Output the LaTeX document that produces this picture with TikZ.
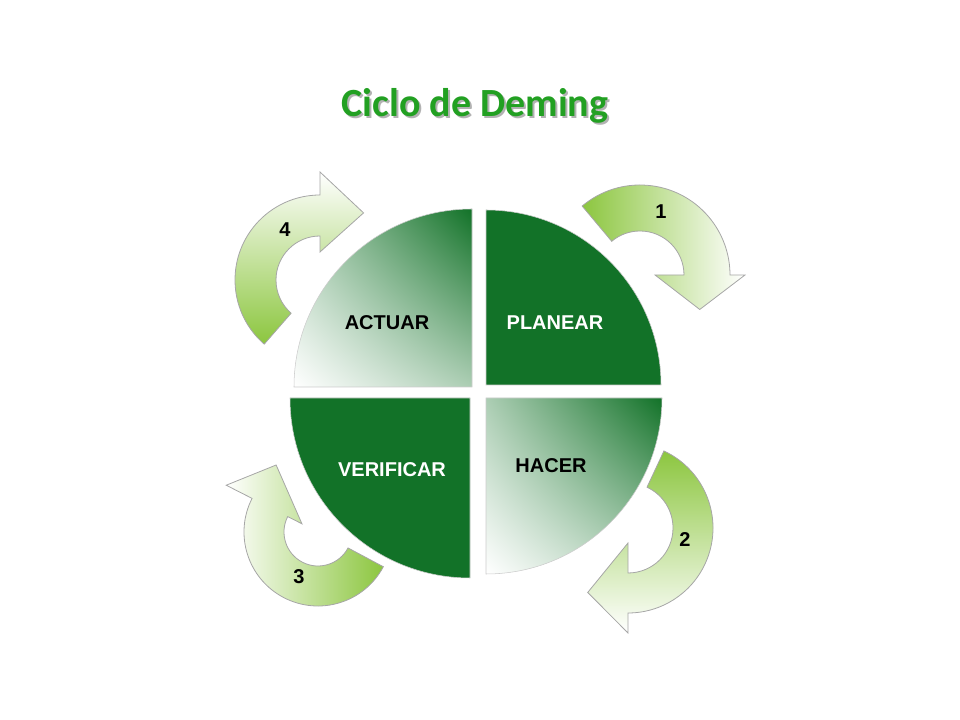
\documentclass[tikz,border=0pt]{standalone}
\usepackage{fontspec}
\setmainfont{Liberation Sans}
\newfontfamily\titlefont{Carlito}
\usetikzlibrary{shadings}
\definecolor{dg}{HTML}{127228}
\definecolor{lg}{HTML}{8CC63F}
\definecolor{tg}{HTML}{22A022}
\begin{document}
\begin{tikzpicture}[x=0.75pt,y=0.75pt,
  arr/.style={draw=gray!70,line width=0.6pt},
  lbl/.style={font=\bfseries\fontsize{15}{18}\selectfont,text=black},
  wlbl/.style={font=\bfseries\fontsize{15}{18}\selectfont,text=white},
  num/.style={font=\bfseries\fontsize{15}{18}\selectfont}]
\useasboundingbox (0,0) rectangle (960,720);
% title
\node[font=\titlefont\bfseries\fontsize{30}{36}\selectfont,text=gray!60] (tsh) at (477,612) {Ciclo de Deming};
\node[font=\titlefont\bfseries\fontsize{30}{36}\selectfont,text=tg] (title) at (475,614) {Ciclo de Deming};
% quadrants
\fill[dg,draw=gray!40] (486,335) -- (486,510) arc[start angle=90,end angle=0,radius=175] -- cycle;
\shade[upper right=dg,lower left=white,upper left=dg!35!white,lower right=dg!35!white,draw=gray!40]
  (472,333) -- (294,333) arc[start angle=180,end angle=90,radius=178] -- cycle;
\fill[dg,draw=gray!40] (470,322) -- (290,322) arc[start angle=180,end angle=270,radius=180] -- cycle;
\shade[upper right=dg,lower left=white,upper left=dg!35!white,lower right=dg!35!white,draw=gray!40]
  (486,322) -- (486,146) arc[start angle=270,end angle=360,radius=176] -- cycle;
\node[lbl] (actuar) at (387,397) {ACTUAR};
\node[wlbl] (planear) at (555,397) {PLANEAR};
\node[wlbl] (verificar) at (392,250) {VERIFICAR};
\node[lbl] (hacer) at (551,254) {HACER};
% arrows
\draw[arr,left color=lg,right color=white,shift={(640,445)}]
  (130:90) arc[start angle=130,end angle=0,radius=90] -- (0:105) -- (-30:69) -- (0:15) -- (0:44)
  arc[start angle=0,end angle=130,radius=44] -- cycle;
\draw[arr,top color=lg,bottom color=white,shift={(628,192)}]
  (65:85) arc[start angle=65,end angle=-90,radius=85] -- (-90:105) -- (-122:76) -- (-90:15) -- (-90:45)
  arc[start angle=-90,end angle=65,radius=45] -- cycle;
\draw[arr,right color=lg,left color=white,shift={(318,188)}]
  (-28:74) arc[start angle=-28,end angle=-207,radius=74] -- (-207:103) -- (-238:79) -- (-207:18) -- (-207:34)
  arc[start angle=-207,end angle=-28,radius=34] -- cycle;
\draw[arr,bottom color=lg,top color=white,shift={(320,440)}]
  (229:85) arc[start angle=229,end angle=90,radius=85] -- (90:108) -- (57:80) -- (90:28) -- (90:44)
  arc[start angle=90,end angle=229,radius=44] -- cycle;
\node[num] (n1) at (661,508) {1};
\node[num] (n2) at (685,180) {2};
\node[num] (n3) at (299,143) {3};
\node[num] (n4) at (285,490) {4};
\end{tikzpicture}
\end{document}
